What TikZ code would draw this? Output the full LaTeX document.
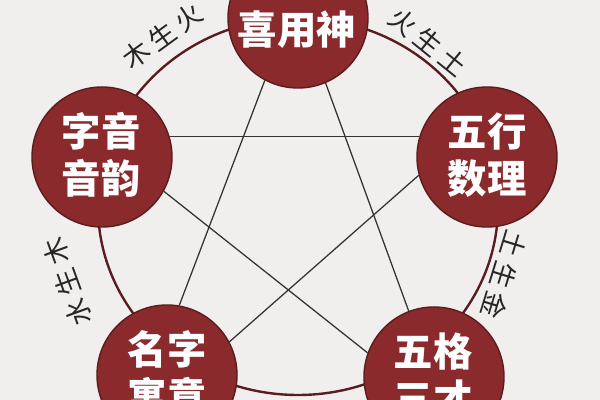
\documentclass[tikz,border=0pt]{standalone}
\usepackage{fontspec}
\newfontfamily\cjk{Noto Sans CJK SC}
\newfontfamily\cjkwide[LetterSpace=20]{Noto Sans CJK SC}
\definecolor{bg}{HTML}{F1EFED}
\definecolor{wine}{HTML}{8B2A2D}
\definecolor{rim}{HTML}{5A1C1E}
\tikzset{
  elem/.style={circle,fill=wine,draw=rim,line width=1pt,minimum size=3.5cm,inner sep=0pt},
  elemtext/.style={text=white,align=center,font=\cjk\bfseries\fontsize{28}{33}\selectfont},
  sheng/.style={text=black!85,inner sep=1pt,font=\cjkwide\fontsize{19}{20}\selectfont},
  starline/.style={draw=black!80,line width=0.9pt},
}

\begin{document}
\begin{tikzpicture}[x=0.025cm,y=0.025cm]
\useasboundingbox[fill=bg] (0,0) rectangle (600,400);

% ring
\draw[rim,line width=1.7pt] (298,193.5) ellipse [x radius=200,y radius=188.5];

\node[elem] (xi) at (298,382) {};
\node[elem] (yin) at (102,243) {};
\node[elem] (wuxing) at (487,243) {};
\node[elem] (mingzi) at (167,25) {};
\node[elem] (wuge) at (434,23) {};

\node[elemtext] (xit) at (297,370) {喜用神};
\node[elemtext] (yint) at (101,245) {字音\\音韵};
\node[elemtext] (wuxingt) at (487,245) {五行\\数理};
\node[elemtext] (mingzit) at (167,27) {名字\\寓意};
\node[elemtext] (wuget) at (433,25) {五格\\三才};

% star
\draw[starline] (xi.242) -- (mingzi.80);
\draw[starline] (xi.293) -- (wuge.111);
\draw[starline] (yin.17) -- (wuxing.163);
\draw[starline] (yin.331) -- (wuge.160);
\draw[starline] (wuxing.195) -- (mingzi.28);

\node[sheng,rotate=36] (muhuo) at (162,364) {木生火};
\node[sheng,rotate=-39] (huotu) at (428,358) {火生土};
\node[sheng,rotate=110] (shuimu) at (67,118) {水生木};
\node[sheng,rotate=-107] (tujin) at (504,125) {土生金};

\end{tikzpicture}
\end{document}
